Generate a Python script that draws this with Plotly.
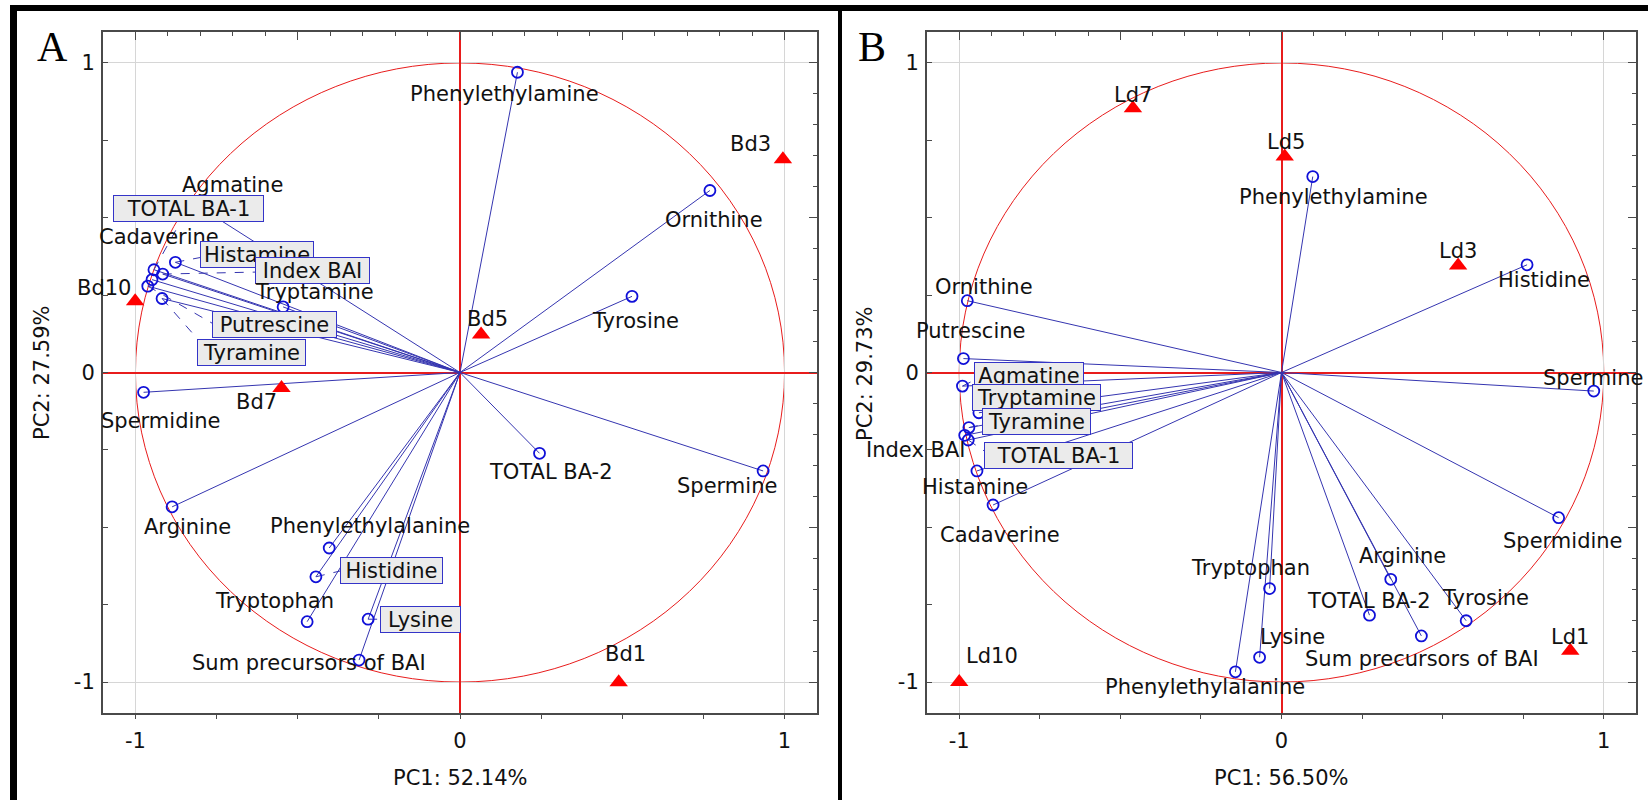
import plotly.graph_objects as go

W, H = 1648, 800

# ---------------- DATA ----------------
# Panel A : Bd samples
A_vars = ["Phenylethylamine", "Ornithine", "Tyrosine", "TOTAL BA-2", "Spermine",
          "Spermidine", "Arginine", "Phenylethylalanine", "Histidine", "Tryptophan",
          "Lysine", "Sum precursors of BAI", "Agmatine", "TOTAL BA-1", "Cadaverine",
          "Histamine", "Index BAI", "Tryptamine", "Putrescine", "Tyramine"]
A_pc1 = [0.177, 0.770, 0.530, 0.245, 0.934, -0.975, -0.887, -0.403, -0.444, -0.471,
         -0.283, -0.311, -0.780, -0.943, -0.949, -0.877, -0.916, -0.545, -0.962, -0.918]
A_pc2 = [0.970, 0.588, 0.246, -0.261, -0.318, -0.064, -0.434, -0.567, -0.660, -0.805,
         -0.797, -0.929, 0.520, 0.332, 0.300, 0.356, 0.318, 0.212, 0.279, 0.239]
A_cases = ["Bd1", "Bd3", "Bd5", "Bd7", "Bd10"]
A_case_pc1 = [0.489, 0.995, 0.065, -0.550, -1.001]
A_case_pc2 = [-1.001, 0.689, 0.123, -0.050, 0.230]

# Panel B : Ld samples
B_vars = ["Phenylethylamine", "Histidine", "Spermine", "Ornithine", "Putrescine",
          "Agmatine", "Tryptamine", "Tyramine", "Index BAI", "TOTAL BA-1", "Histamine",
          "Cadaverine", "Phenylethylalanine", "Spermidine", "Arginine", "Tryptophan",
          "TOTAL BA-2", "Tyrosine", "Sum precursors of BAI", "Lysine"]
B_pc1 = [0.097, 0.762, 0.969, -0.975, -0.987, -0.990, -0.939, -0.970, -0.983, -0.972,
         -0.945, -0.895, -0.143, 0.860, 0.339, -0.037, 0.273, 0.573, 0.434, -0.068]
B_pc2 = [0.633, 0.348, -0.060, 0.232, 0.045, -0.044, -0.130, -0.178, -0.203, -0.218,
         -0.318, -0.428, -0.967, -0.469, -0.668, -0.698, -0.784, -0.802, -0.851, -0.920]
B_cases = ["Ld1", "Ld3", "Ld5", "Ld7", "Ld10"]
B_case_pc1 = [0.896, 0.548, 0.010, -0.461, -1.000]
B_case_pc2 = [-0.899, 0.346, 0.698, 0.854, -1.000]

A_xtitle, A_ytitle = "PC1: 52.14%", "PC2: 27.59%"
B_xtitle, B_ytitle = "PC1: 56.50%", "PC2: 29.73%"
tick_vals = [-1, 0, 1]
tick_text = ["-1", "0", "1"]

# ---------------- STYLE (label placement in pixels) ----------------
# name: (dx, dy) offset of label centre from point, screen px (dy down)
A_lab = {"Phenylethylamine": (-13, 22), "Ornithine": (4, 30), "Tyrosine": (3, 25),
         "TOTAL BA-2": (11, 19), "Spermine": (-36, 15), "Spermidine": (17, 29),
         "Arginine": (15, 20), "Phenylethylalanine": (41, -22), "Histidine": (76, -6),
         "Tryptophan": (-33, -21), "Lysine": (52, 0), "Sum precursors of BAI": (-50, 3),
         "Agmatine": (26, -27), "TOTAL BA-1": (35, -61), "Cadaverine": (7, -43),
         "Histamine": (82, -8), "Index BAI": (150, -4), "Tryptamine": (31, -15),
         "Putrescine": (127, 38), "Tyramine": (89, 54)}
# boxed labels: (box width, leader end dx, leader end dy) ; leader None => no leader
A_box = {"Histidine": (101, 25, -6), "Lysine": (79, 12, 0), "TOTAL BA-1": (149, 26, -47),
         "Histamine": (112, 26, -5), "Index BAI": (113, 94, -2), "Putrescine": (123, 66, 38),
         "Tyramine": (107, 36, 41)}
A_case_lab = {"Bd1": (7, -28), "Bd3": (-32, -15), "Bd5": (6, -15), "Bd7": (-25, 14),
              "Bd10": (-31, -13)}

B_lab = {"Phenylethylamine": (21, 20), "Histidine": (17, 15), "Spermine": (-1, -13),
         "Ornithine": (17, -14), "Putrescine": (7, -28), "Agmatine": (67, -11),
         "Tryptamine": (58, -15), "Tyramine": (68, -6), "Index BAI": (-49, 15),
         "TOTAL BA-1": (90, 16), "Histamine": (-2, 16), "Cadaverine": (7, 30),
         "Phenylethylalanine": (-30, 15), "Spermidine": (4, 23), "Arginine": (12, -23),
         "Tryptophan": (-19, -21), "TOTAL BA-2": (0, -14), "Tyrosine": (19, -23),
         "Sum precursors of BAI": (1, 23), "Lysine": (33, -20)}
B_box = {"Agmatine": (108, 14, -7), "Tryptamine": (127, None, None),
         "Tyramine": (107, 14, -3), "TOTAL BA-1": (147, 16, 11)}
B_case_lab = {"Ld1": (0, -14), "Ld3": (0, -14), "Ld5": (1, -14), "Ld7": (0, -13),
              "Ld10": (33, -26)}

FONT = "DejaVu Sans"
FS = 21
RNG = [-1.1, 1.1]
A_dom = [103 / W, 817 / W]
B_dom = [927 / W, 1636 / W]
Y_dom = [(H - 713) / H, (H - 32) / H]

VEC_C = "#3535b0"
PT_C = "#1010d8"
RED = "#e81c1c"
AXC = "#4a4a4a"
TXT = "#111111"

fig = go.Figure()
annotations = []
shapes = []


def panel(xa, ya, dom, vars_, pc1, pc2, cases, cpc1, cpc2, lab, box, clab):
    sx = (dom[1] - dom[0]) * W / (RNG[1] - RNG[0])
    sy = (Y_dom[1] - Y_dom[0]) * H / (RNG[1] - RNG[0])
    # vectors
    vx, vy = [], []
    for a, b in zip(pc1, pc2):
        vx += [0, a, None]
        vy += [0, b, None]
    fig.add_trace(go.Scatter(x=vx, y=vy, mode="lines", xaxis=xa, yaxis=ya,
                             line=dict(color=VEC_C, width=1), hoverinfo="skip",
                             showlegend=False))
    # dashed leaders
    lx, ly = [], []
    for n, a, b in zip(vars_, pc1, pc2):
        if n in box and box[n][1] is not None:
            lx += [a, a + box[n][1] / sx, None]
            ly += [b, b - box[n][2] / sy, None]
    fig.add_trace(go.Scatter(x=lx, y=ly, mode="lines", xaxis=xa, yaxis=ya,
                             line=dict(color=VEC_C, width=1, dash="dash"),
                             hoverinfo="skip", showlegend=False))
    # variable points
    fig.add_trace(go.Scatter(x=pc1, y=pc2, mode="markers", xaxis=xa, yaxis=ya,
                             marker=dict(symbol="circle-open", size=11,
                                         line=dict(color=PT_C, width=1.8), color=PT_C),
                             text=vars_, hoverinfo="text", showlegend=False))
    # cases
    fig.add_trace(go.Scatter(x=cpc1, y=cpc2, mode="markers", xaxis=xa, yaxis=ya,
                             marker=dict(symbol="triangle-up", size=16, color="#ff0000",
                                         line=dict(width=0)),
                             text=cases, hoverinfo="text", showlegend=False))
    for n, a, b in zip(vars_, pc1, pc2):
        dx, dy = lab[n]
        ann = dict(x=a, y=b, xref=xa, yref=ya, text=n, showarrow=False,
                   xshift=dx, yshift=-dy, xanchor="center", yanchor="middle",
                   font=dict(family=FONT, size=FS, color=TXT))
        if n in box:
            ann.update(bgcolor="#ebebeb", bordercolor="#3434c8", borderwidth=1,
                       borderpad=0, width=box[n][0], height=25)
        annotations.append(ann)
    for n, a, b in zip(cases, cpc1, cpc2):
        dx, dy = clab[n]
        annotations.append(dict(x=a, y=b, xref=xa, yref=ya, text=n, showarrow=False,
                                xshift=dx, yshift=-dy, xanchor="center", yanchor="middle",
                                font=dict(family=FONT, size=FS, color=TXT)))
    # unit circle
    shapes.append(dict(type="circle", xref=xa, yref=ya, x0=-1, x1=1, y0=-1, y1=1,
                       line=dict(color=RED, width=1), layer="below"))


panel("x", "y", A_dom, A_vars, A_pc1, A_pc2, A_cases, A_case_pc1, A_case_pc2,
      A_lab, A_box, A_case_lab)
panel("x2", "y2", B_dom, B_vars, B_pc1, B_pc2, B_cases, B_case_pc1, B_case_pc2,
      B_lab, B_box, B_case_lab)

# dummy traces for the mirrored tick axes
fig.add_trace(go.Scatter(x=[None], y=[None], xaxis="x3", yaxis="y3", showlegend=False,
                         hoverinfo="skip"))
fig.add_trace(go.Scatter(x=[None], y=[None], xaxis="x4", yaxis="y4", showlegend=False,
                         hoverinfo="skip"))


def main_x(dom, anchor):
    return dict(domain=dom, anchor=anchor, range=RNG, tickmode="array",
                tickvals=tick_vals, ticktext=tick_text, showgrid=True, gridcolor="#d6d6d6",
                gridwidth=1, zeroline=True, zerolinecolor=RED, zerolinewidth=1.5,
                showline=True, linecolor=AXC, linewidth=2, ticks="outside", ticklen=4,
                tickcolor=AXC, ticklabelstandoff=4,
                minor=dict(tickmode="linear", tick0=0, dtick=0.25, ticks="outside",
                           ticklen=4, tickcolor=AXC, showgrid=False),
                tickfont=dict(family=FONT, size=FS, color=TXT), fixedrange=True)


def main_y(anchor):
    return dict(domain=Y_dom, anchor=anchor, range=RNG, tickmode="array",
                tickvals=tick_vals, ticktext=tick_text, showgrid=True, gridcolor="#d6d6d6",
                gridwidth=1, zeroline=True, zerolinecolor=RED, zerolinewidth=1.5,
                showline=True, linecolor=AXC, linewidth=2, ticks="inside", ticklen=5,
                tickcolor=AXC, ticklabelstandoff=2,
                minor=dict(tickmode="linear", tick0=0, dtick=0.25, ticks="inside",
                           ticklen=5, tickcolor=AXC, showgrid=False),
                tickfont=dict(family=FONT, size=FS, color=TXT), fixedrange=True)


def top_x(over, anchor):
    return dict(overlaying=over, side="top", anchor=anchor, range=RNG,
                showticklabels=False, showgrid=False, zeroline=False, showline=True,
                linecolor=AXC, linewidth=2, ticks="inside", ticklen=8, tickcolor=AXC,
                tickmode="linear", tick0=0, dtick=0.5,
                minor=dict(tickmode="linear", tick0=0, dtick=0.1, ticks="inside",
                           ticklen=4, tickcolor=AXC, showgrid=False), fixedrange=True)


def right_y(over, anchor):
    return dict(overlaying=over, side="right", anchor=anchor, range=RNG,
                showticklabels=False, showgrid=False, zeroline=False, showline=True,
                linecolor=AXC, linewidth=2, ticks="inside", ticklen=8, tickcolor=AXC,
                tickmode="linear", tick0=0, dtick=0.5,
                minor=dict(tickmode="linear", tick0=0, dtick=0.1, ticks="inside",
                           ticklen=4, tickcolor=AXC, showgrid=False), fixedrange=True)


def px(x, y):
    return x / W, 1 - y / H


# titles and panel letters
for (tx, ty, txt, ang) in [(460, 778, A_xtitle, 0), (1281, 778, B_xtitle, 0),
                           (42, 373, A_ytitle, -90), (865, 373, B_ytitle, -90)]:
    xx, yy = px(tx, ty)
    annotations.append(dict(x=xx, y=yy, xref="paper", yref="paper", text=txt,
                            showarrow=False, textangle=ang, xanchor="center",
                            yanchor="middle",
                            font=dict(family=FONT, size=FS, color=TXT)))
for (tx, ty, txt) in [(52, 47, "A"), (872, 47, "B")]:
    xx, yy = px(tx, ty)
    annotations.append(dict(x=xx, y=yy, xref="paper", yref="paper", text=txt,
                            showarrow=False, xanchor="center", yanchor="middle",
                            font=dict(family="Liberation Serif", size=42, color="#000000")))

# black frame
for (x0, y0, x1, y1) in [(10, 5, W, 11), (10, 5, 17, H), (838, 5, 842, H)]:
    a0, b0 = px(x0, y1)
    a1, b1 = px(x1, y0)
    shapes.append(dict(type="rect", xref="paper", yref="paper", x0=a0, x1=a1, y0=b0,
                       y1=b1, fillcolor="#000000", line=dict(width=0), layer="above"))

fig.update_layout(
    width=W, height=H, margin=dict(l=0, r=0, t=0, b=0),
    paper_bgcolor="white", plot_bgcolor="white", showlegend=False,
    xaxis=main_x(A_dom, "y"), yaxis=main_y("x"),
    xaxis2=main_x(B_dom, "y2"), yaxis2=main_y("x2"),
    xaxis3=top_x("x", "y"), yaxis3=right_y("y", "x"),
    xaxis4=top_x("x2", "y2"), yaxis4=right_y("y2", "x2"),
    annotations=annotations, shapes=shapes,
)

fig.write_html("out.html")
